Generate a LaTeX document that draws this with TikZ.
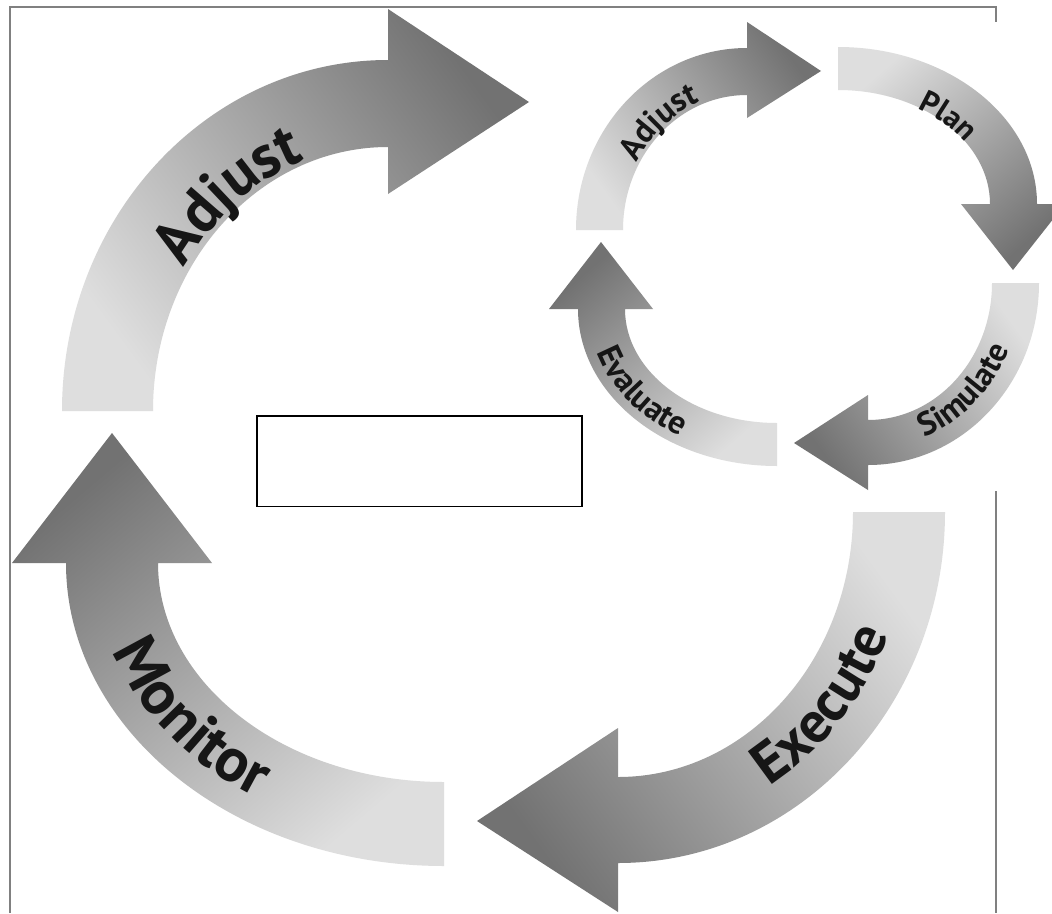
\documentclass[tikz,border=0pt]{standalone}
\usepackage{fontspec}
\setmainfont{PT Sans}
\usetikzlibrary{calc,decorations.text}
\definecolor{arrlight}{RGB}{222,222,222}
\definecolor{arrdark}{RGB}{114,114,114}
\definecolor{framegray}{RGB}{128,128,128}
\definecolor{txtcol}{RGB}{22,22,22}
\newcommand\txtA{\fontsize{61}{63}\selectfont\bfseries}
\newcommand\txtM{\fontsize{62}{64}\selectfont\bfseries}
\newcommand\txtE{\fontsize{58}{60}\selectfont\bfseries}
\newcommand\smalltxt{\fontsize{33}{35}\selectfont\bfseries}
\newcommand\plantxt{\fontsize{31}{33}\selectfont\bfseries}
\tikzset{
  arrowshade/.style={bottom color=arrlight, top color=arrdark, shading angle=#1},
  curvedlabel/.style={decorate, decoration={text along path, text={#1}, text align=center, text color=txtcol}},
  frameline/.style={draw=framegray, line width=1.5pt},
  emptybox/.style={draw=black, line width=1.6pt, minimum width=325, minimum height=90.7, inner sep=0pt, fill=white}
}
\begin{document}
\begin{tikzpicture}[x=1pt,y=1pt]
\useasboundingbox (0,0) rectangle (1052,-913);
\fill[white] (0,0) rectangle (1052,-913);
\clip (0,0) rectangle (1052,-913);

% frame
\coordinate (f1) at (10,-913);
\coordinate (f2) at (10,-7);
\coordinate (f3) at (996,-7);
\coordinate (f4) at (996,-22);
\coordinate (f5) at (996,-491);
\coordinate (f6) at (996,-913);
\draw[frameline] (f1) -- (f2) -- (f3) -- (f4);
\draw[frameline] (f5) -- (f6);

% centres
\coordinate (cBA) at (388,-411);
\coordinate (cBE) at (618,-512);
\coordinate (cBM) at (444,-563);
\coordinate (cSA) at (747,-230);
\coordinate (cSS) at (868,-283);
\coordinate (cSP) at (838,-204);
\coordinate (cSE) at (777,-309);

% big Adjust
\shade[arrowshade=-53.8] ($(cBA)+(-326,0)$) arc[start angle=180,end angle=90,x radius=326,y radius=351]
  -- ($(cBA)+(0,402)$) -- ($(cBA)+(141,309)$) -- ($(cBA)+(0,217)$) -- ($(cBA)+(0,264)$)
  arc[start angle=90,end angle=180,x radius=235,y radius=264] -- cycle;
% Execute
\shade[arrowshade=126.2] ($(cBE)+(327,0)$) arc[start angle=0,end angle=-90,x radius=327,y radius=351]
  -- ($(cBE)+(0,-400)$) -- ($(cBE)+(-141,-309)$) -- ($(cBE)+(0,-216)$) -- ($(cBE)+(0,-265)$)
  arc[start angle=-90,end angle=0,x radius=235,y radius=265] -- cycle;
% Monitor
\shade[arrowshade=40.3] ($(cBM)+(0,-303)$) arc[start angle=270,end angle=180,x radius=378,y radius=303]
  -- ($(cBM)+(-432,0)$) -- ($(cBM)+(-332,130)$) -- ($(cBM)+(-232,0)$) -- ($(cBM)+(-286,0)$)
  arc[start angle=180,end angle=270,x radius=286,y radius=219] -- cycle;

% small Adjust
\shade[arrowshade=-54.3] ($(cSA)+(-171,0)$) arc[start angle=180,end angle=90,x radius=171,y radius=182]
  -- ($(cSA)+(0,208)$) -- ($(cSA)+(74,159)$) -- ($(cSA)+(0,112)$) -- ($(cSA)+(0,135)$)
  arc[start angle=90,end angle=180,x radius=124,y radius=135] -- cycle;
% Simulate
\shade[arrowshade=125.9] ($(cSS)+(171,0)$) arc[start angle=0,end angle=-90,x radius=171,y radius=182]
  -- ($(cSS)+(0,-207)$) -- ($(cSS)+(-74,-160)$) -- ($(cSS)+(0,-112)$) -- ($(cSS)+(0,-137)$)
  arc[start angle=-90,end angle=0,x radius=124,y radius=137] -- cycle;
% Plan
\shade[arrowshade=-139] ($(cSP)+(0,157)$) arc[start angle=90,end angle=0,x radius=199,y radius=157]
  -- ($(cSP)+(227,0)$) -- ($(cSP)+(175,-66)$) -- ($(cSP)+(123,0)$) -- ($(cSP)+(152,0)$)
  arc[start angle=0,end angle=90,x radius=152,y radius=114] -- cycle;
% Evaluate
\shade[arrowshade=41] ($(cSE)+(0,-157)$) arc[start angle=270,end angle=180,x radius=199,y radius=157]
  -- ($(cSE)+(-228,0)$) -- ($(cSE)+(-176,67)$) -- ($(cSE)+(-124,0)$) -- ($(cSE)+(-152,0)$)
  arc[start angle=180,end angle=270,x radius=152,y radius=114] -- cycle;

% labels (baseline paths)
\path[curvedlabel={|\txtA|Adjust}] ($(cBA)+(177.5:241 and 268)$) arc[start angle=177.5,end angle=77.5,x radius=241,y radius=268];
\path[curvedlabel={|\txtM|Monitor}] ($(cBM)+(165:349 and 278)$) arc[start angle=165,end angle=265,x radius=349,y radius=278];
\path[curvedlabel={|\txtE|Execute}] ($(cBE)+(268:293 and 320)$) arc[start angle=268,end angle=368,x radius=293,y radius=320];
\path[curvedlabel={|\smalltxt|Adjust}] ($(cSA)+(180:127 and 138)$) arc[start angle=180,end angle=80,x radius=127,y radius=138];
\path[curvedlabel={|\plantxt|Plan}] ($(cSP)+(91:152 and 112)$) arc[start angle=91,end angle=-9,x radius=152,y radius=112];
\path[curvedlabel={|\smalltxt|Simulate}] ($(cSS)+(-97:154 and 166)$) arc[start angle=-97,end angle=3,x radius=154,y radius=166];
\path[curvedlabel={|\smalltxt|Evaluate}] ($(cSE)+(165:188.5 and 148.5)$) arc[start angle=165,end angle=265,x radius=188.5,y radius=148.5];

% empty box
\node[emptybox] (box) at (419.2,-461.3) {};
\end{tikzpicture}
\end{document}
